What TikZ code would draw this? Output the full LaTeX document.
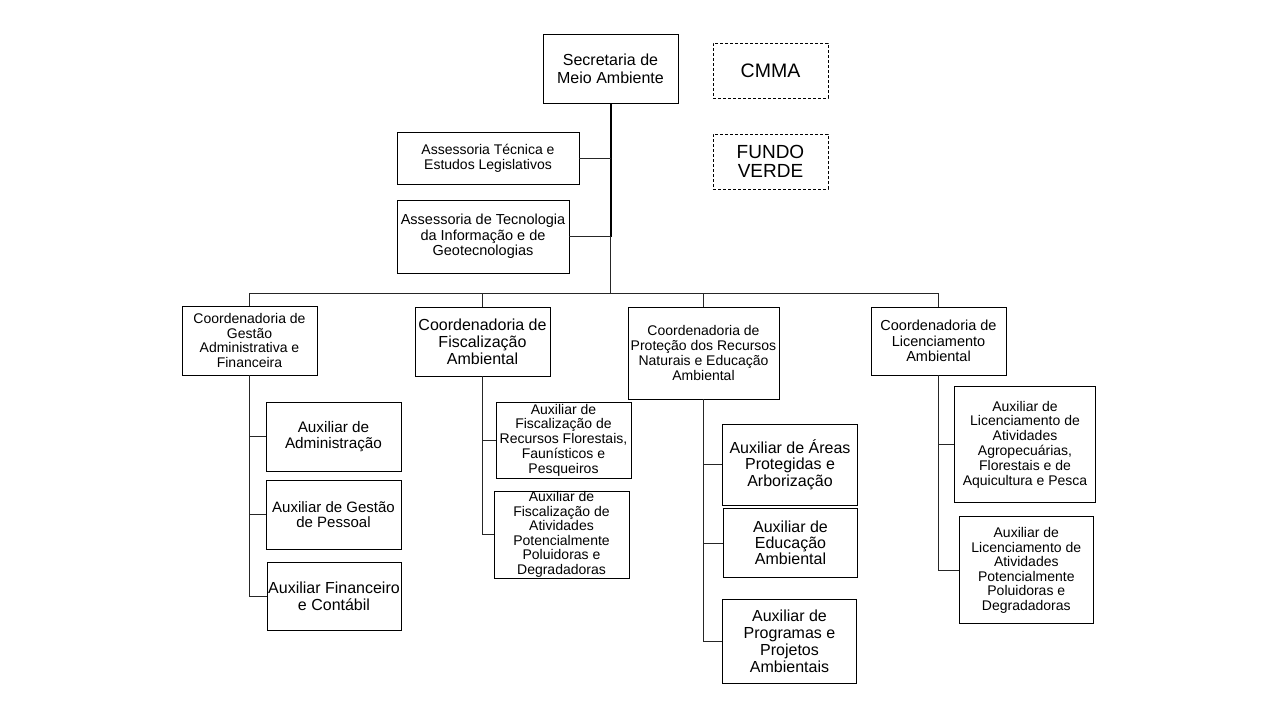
\documentclass[tikz,border=0pt]{standalone}
\usepackage{fontspec}
\setmainfont{Liberation Sans}
\begin{document}
\begin{tikzpicture}[x=1pt,y=-1pt,
  box/.style={draw=black,line width=0.8pt,rectangle,inner sep=0pt,align=center},
  dbox/.style={box,dash pattern=on 3pt off 2pt},
  fs/.style={font=\fontsize{14}{14.8}\selectfont},
  fm/.style={font=\fontsize{14.5}{15.4}\selectfont},
  fb/.style={font=\fontsize{16}{16.8}\selectfont},
  conn/.style={line width=0.8pt,draw=black!85}
]
\useasboundingbox (0,0) rectangle (1280,720);

% top
\node[box,font=\fontsize{16}{18}\selectfont,minimum width=135pt,minimum height=69pt] (sec) at (610.5,68.5) {Secretaria de\\Meio Ambiente};
\node[dbox,font=\fontsize{19.5}{20}\selectfont,minimum width=115pt,minimum height=55pt] (cmma) at (770.5,70.5) {CMMA};
\node[dbox,font=\fontsize{19}{19.5}\selectfont,minimum width=115pt,minimum height=55pt] (fundo) at (770.5,161.5) {FUNDO\\VERDE};

\node[box,font=\fontsize{14}{15}\selectfont,minimum width=182pt,minimum height=52pt] (at) at (488,158) {Assessoria Técnica e\\Estudos Legislativos};
\node[box,font=\fontsize{14.5}{15.5}\selectfont,minimum width=172pt,minimum height=73pt] (ati) at (483,236.5) {Assessoria de Tecnologia\\da Informação e de\\Geotecnologias};

% coordinations
\node[box,font=\fontsize{14}{14.6}\selectfont,minimum width=135pt,minimum height=69pt] (c1) at (249.5,340.5) {Coordenadoria de\\Gestão\\Administrativa e\\Financeira};
\node[box,fb,minimum width=135pt,minimum height=69pt] (c2) at (482.5,341.5) {Coordenadoria de\\Fiscalização\\Ambiental};
\node[box,fs,minimum width=151pt,minimum height=92pt] (c3) at (703.5,353) {Coordenadoria de\\Proteção dos Recursos\\Naturais e Educação\\Ambiental};
\node[box,fm,minimum width=135pt,minimum height=68pt] (c4) at (938.5,341) {Coordenadoria de\\Licenciamento\\Ambiental};

% auxiliaries
\node[box,font=\fontsize{15.3}{15.5}\selectfont,minimum width=135pt,minimum height=69pt] (a11) at (333.5,436.5) {Auxiliar de\\Administração};
\node[box,font=\fontsize{15}{15.3}\selectfont,minimum width=135pt,minimum height=69pt] (a12) at (333.5,514.5) {Auxiliar de Gestão\\de Pessoal};
\node[box,fb,minimum width=134pt,minimum height=68pt] (a13) at (334,596) {Auxiliar Financeiro\\e Contábil};

\node[box,fs,minimum width=135pt,minimum height=76pt] (a21) at (563.5,440) {Auxiliar de\\Fiscalização de\\Recursos Florestais,\\Faunísticos e\\Pesqueiros};
\node[box,font=\fontsize{14}{14.5}\selectfont,minimum width=135pt,minimum height=87pt] (a22) at (561.5,534.5) {Auxiliar de\\Fiscalização de\\Atividades\\Potencialmente\\Poluidoras e\\Degradadoras};

\node[box,fb,minimum width=135pt,minimum height=81pt] (a31) at (790,464.7) {Auxiliar de Áreas\\Protegidas e\\Arborização};
\node[box,font=\fontsize{16}{16.2}\selectfont,minimum width=134pt,minimum height=69pt] (a32) at (790.5,543) {Auxiliar de\\Educação\\Ambiental};
\node[box,fb,minimum width=134pt,minimum height=84pt] (a33) at (789.5,641.3) {Auxiliar de\\Programas e\\Projetos\\Ambientais};

\node[box,fs,minimum width=141pt,minimum height=116pt] (a41) at (1025,444.5) {Auxiliar de\\Licenciamento de\\Atividades\\Agropecuárias,\\Florestais e de\\Aquicultura e Pesca};
\node[box,font=\fontsize{14}{14.5}\selectfont,minimum width=134pt,minimum height=107pt] (a42) at (1026.3,570.3) {Auxiliar de\\Licenciamento de\\Atividades\\Potencialmente\\Poluidoras e\\Degradadoras};

% trunk
\coordinate (bus) at (610.5,293);
\coordinate (tmid) at (sec.south |- ati.east);
\draw[line width=2pt] (sec.south) -- (tmid);
\draw[conn] (tmid) -- (bus);
\draw[conn] (at.east) -- (at.east -| sec.south);
\draw[conn] (ati.east) -- (tmid);

% bus
\draw[conn] (c1.north) |- (bus);
\draw[conn] (c4.north) |- (bus);
\draw[conn] (c2.north) -- (c2.north |- bus);
\draw[conn] (c3.north) -- (c3.north |- bus);

% branches
\draw[conn] (c1.south) |- (a13.west);
\draw[conn] (a11.west) -- (a11.west -| c1.south);
\draw[conn] (a12.west) -- (a12.west -| c1.south);

\draw[conn] (c2.south) |- (a22.west);
\draw[conn] (a21.west) -- (a21.west -| c2.south);

\draw[conn] (c3.south) |- (a33.west);
\draw[conn] (a31.west) -- (a31.west -| c3.south);
\draw[conn] (a32.west) -- (a32.west -| c3.south);

\draw[conn] (c4.south) |- (a42.west);
\draw[conn] (a41.west) -- (a41.west -| c4.south);
\end{tikzpicture}
\end{document}
